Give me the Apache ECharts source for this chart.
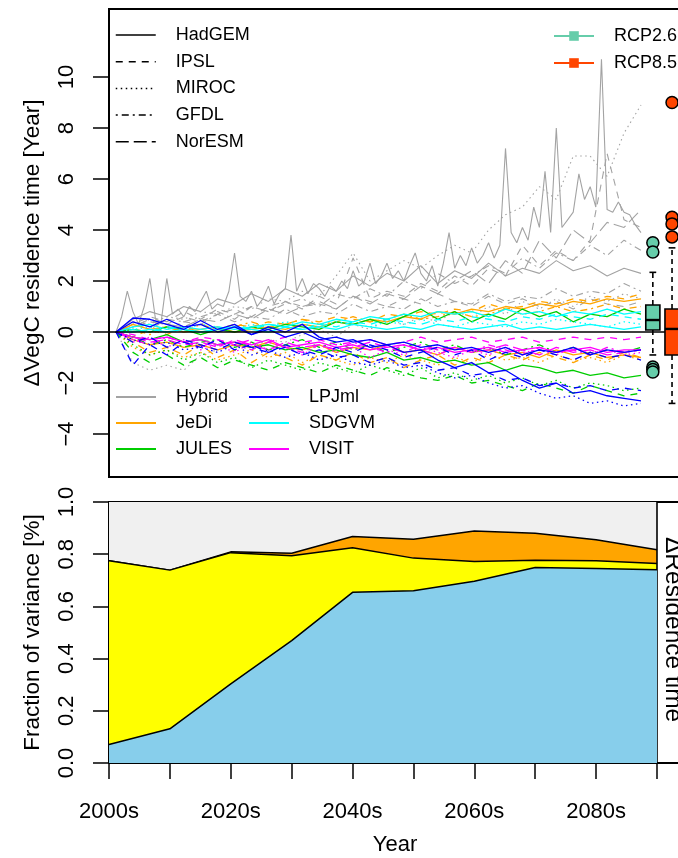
<!DOCTYPE html>
<html><head><meta charset="utf-8">
<script src="https://cdn.jsdelivr.net/npm/echarts@6/dist/echarts.min.js"></script>
<style>html,body{margin:0;padding:0;background:#fff}#c{width:678px;height:858px}</style>
</head><body><div id="c"></div>
<script>
// ---------- DATA ----------
var yearsAnnual = [2006,2007,2008,2009,2010,2011,2012,2013,2014,2015,2016,2017,2018,2019,2020,2021,2022,2023,2024,2025,
  2026,2027,2028,2029,2030,2031,2032,2033,2034,2035,2036,2037,2038,2039,2040,2041,2042,2043,2044,2045,
  2046,2047,2048,2049,2050,2051,2052,2053,2054,2055,2056,2057,2058,2059,2060,2061,2062,2063,2064,2065,
  2066,2067,2068,2069,2070,2071,2072,2073,2074,2075,2076,2077,2078,2079,2080,2081,2082,2083,2084,2085,
  2086,2087,2088,2089,2090,2091,2092,2093,2094,2095,2096,2097,2098,2099];
var years3 = [2006,2009,2012,2015,2018,2021,2024,2027,2030,2033,2036,2039,2042,2045,2048,2051,2054,2057,2060,2063,
  2066,2069,2072,2075,2078,2081,2084,2087,2090,2093,2096,2099];

// Hybrid (grey)
var hybridHadGEM85 = [0,0.6,1.6,0.8,0.3,1.0,2.1,0.5,0.4,2.1, 0.7,0.9,0.6,1.0,0.8,1.2,1.6,0.9,1.1,1.0,
  1.6,3.1,1.4,1.2,1.6,1.0,1.3,1.8,1.1,1.5, 1.7,3.8,1.6,2.1,1.5,1.9,1.7,1.4,1.8,1.6,
  2.0,1.7,2.4,1.8,2.0,2.7,1.9,2.2,2.7,2.1, 2.4,2.0,2.6,3.1,2.3,2.0,2.6,1.8,2.7,3.9,
  2.5,3.0,2.6,3.3,2.7,3.0,3.5,2.9,3.4,7.2, 3.9,3.5,4.1,3.6,4.9,4.1,6.3,3.9,8.0,4.1,
  4.4,4.7,6.2,5.2,5.7,4.9,10.7,4.8,4.7,5.1, 4.7,4.6,4.2,3.9];
var hybridMIROC85 = [0,0.4,0.3,0.6,0.5,0.8,0.7,1.0,0.9,1.3, 1.2,1.6,1.4,2.2,3.1,2.0,2.4,2.8,2.5,3.0, 3.4,3.1,4.0,4.6,4.9,5.7,5.2,6.9,6.9,6.1, 7.8,8.9];
var hybridIPSL85 = [0,0.2,0.5,0.3,0.6,0.4,0.7,0.9,0.6,1.0, 1.2,0.9,1.4,1.1,2.9,1.3,1.6,1.4,1.9,1.6, 2.2,1.8,2.5,2.2,3.4,2.6,3.2,2.8,3.6,7.0, 4.4,4.1];
var hybridGFDL85 = [0,0.3,0.1,0.5,0.4,0.6,0.8,0.5,1.0,0.8, 1.1,1.3,1.0,1.5,1.3,1.7,1.4,2.0,1.7,2.3, 1.9,2.2,2.6,2.3,2.9,2.5,3.1,2.8,3.4,3.0, 3.6,3.2];
var hybridNorESM85 = [0,0.2,0.4,0.3,0.2,0.5,0.4,0.7,0.5,0.9, 0.7,1.0,1.2,0.9,1.4,1.1,1.5,1.3,1.8,1.5, 2.0,2.4,1.9,2.8,2.3,3.6,2.9,4.0,3.5,4.3, 4.1,4.8];
var hybridHadGEM26 = [0,0.5,0.8,0.6,1.0,0.8,1.3,1.1,1.5,1.2, 1.7,1.4,1.9,1.6,2.2,1.8,2.3,2.0,2.6,1.9, 2.4,2.1,2.7,2.2,2.5,2.3,2.8,2.4,2.6,2.2, 2.5,2.3];
var hybridMIROC26 = [0,-1.2,-1.5,-1.3,-1.5,-0.9,-0.7,-0.5,-0.6,-0.3, -0.4,-0.1,0.1,-0.2,0.3,0.1,0.5,0.3,0.6,0.4, 0.8,0.6,1.0,0.7,1.2,0.9,1.3,1.0,1.4,1.2, 1.5,1.3];
var hybridIPSL26 = [0,0.3,0.6,0.4,0.8,0.5,0.9,0.7,1.0,0.8, 1.2,1.0,1.1,0.9,1.4,1.2,1.0,1.3,1.1,1.5, 1.2,1.0,1.4,1.1,1.3,1.0,1.2,0.9,1.3,1.1, 1.0,1.2];
var hybridGFDL26 = [0,0.2,0.5,0.1,0.4,0.3,0.7,0.4,0.6,0.5, 0.9,0.6,0.8,0.7,1.1,0.8,1.0,0.9,1.3,1.0, 1.2,1.1,1.5,1.2,1.4,1.3,1.7,1.4,1.6,1.5, 1.9,1.6];
// JeDi (orange)
var jediHadGEM85 = [0,0.3,0.1,0.2,0.0,0.1,0.2,0.0,0.1,0.2, 0.1,0.3,0.2,0.4,0.3,0.5,0.4,0.6,0.5,0.8, 0.7,0.9,0.8,1.0,0.9,1.1,1.0,1.2,1.1,1.3, 1.2,1.3];
var jediIPSL85 = [0,-0.2,0.1,-0.1,0.2,0.0,0.1,0.3,0.2,0.4, 0.3,0.5,0.4,0.6,0.5,0.4,0.7,0.6,0.8,0.7, 0.9,0.8,1.1,0.9,1.0,1.2,1.1,1.3,1.2,1.4, 1.3,1.5];
var jediGFDL85 = [0,0.1,-0.1,0.2,0.0,0.3,0.1,0.2,0.4,0.2, 0.3,0.5,0.3,0.4,0.6,0.4,0.5,0.7,0.5,0.6, 0.8,0.6,0.7,0.9,0.7,0.8,1.0,0.8,0.9,1.1, 0.9,1.0];
var jediMIROC85 = [0,-0.6,-0.9,-0.7,-1.0,-0.8,-1.1,-0.9,-0.7,-1.0, -0.8,-1.2,-0.9,-1.1,-1.3,-1.0,-1.2,-0.9,-1.1,-1.3, -1.0,-1.2,-0.9,-1.1,-1.0,-1.2,-0.9,-1.1,-1.0,-1.2, -0.9,-1.1];
var jediHadGEM26 = [0,-0.3,-0.5,-0.4,-0.6,-0.5,-0.7,-0.5,-0.6,-0.4, -0.6,-0.7,-0.5,-0.8,-0.6,-0.7,-0.5,-0.8,-0.7,-0.9, -0.6,-0.8,-0.7,-0.9,-0.8,-1.0,-0.7,-0.9,-0.8,-1.0, -0.9,-1.0];
var jediIPSL26 = [0,-0.4,-0.8,-0.6,-0.9,-0.5,-1.0,-0.7,-1.2,-0.8, -1.0,-1.3,-0.9,-1.1,-0.8,-1.2,-1.0,-1.4,-1.1,-0.9, -1.3,-1.0,-1.2,-0.9,-1.1,-0.8,-1.0,-1.2,-0.9,-1.1, -0.8,-1.0];
// JULES (green)
var julesHadGEM85 = [0,0.1,0.0,0.2,0.1,-0.1,0.1,0.0,0.2,0.1, 0.3,0.2,0.1,0.4,0.3,0.5,0.3,0.6,0.9,0.5, 0.8,0.4,0.7,0.5,0.9,0.6,0.8,0.4,0.7,0.6, 0.9,0.7];
var julesHadGEM26 = [0,-0.2,-0.3,-0.1,-0.4,-0.3,-0.5,-0.4,-0.6,-0.5, -0.7,-0.6,-0.8,-0.7,-0.9,-1.0,-0.8,-1.1,-1.0,-1.2, -1.1,-1.3,-1.2,-1.5,-1.3,-1.4,-1.6,-1.5,-1.7,-1.6, -1.8,-1.7];
var julesIPSL85 = [0,-0.8,-1.2,-0.9,-1.3,-1.0,-1.4,-1.1,-1.3,-1.5, -1.2,-1.4,-1.6,-1.3,-1.5,-1.7,-1.4,-1.6,-1.8,-1.9, -1.7,-2.0,-1.9,-2.1,-2.3,-2.0,-2.2,-2.4,-2.1,-2.3, -2.5,-2.4];
var julesMIROC85 = [0,-0.5,-0.9,-0.7,-1.1,-0.8,-1.2,-1.0,-1.4,-1.1, -1.3,-1.5,-1.2,-1.4,-1.6,-1.3,-1.5,-1.7,-1.4,-1.8, -1.6,-1.9,-1.7,-2.0,-1.8,-2.1,-1.9,-2.2,-2.0,-2.1, -2.3,-2.2];
var julesGFDL26 = [0,-0.2,-0.5,-0.3,-0.6,-0.4,-0.3,-0.6,-0.4,-0.7, -0.5,-0.3,-0.6,-0.4,-0.7,-0.5,-0.8,-0.6,-0.4,-0.7, -0.5,-0.8,-0.6,-0.9,-0.7,-0.5,-0.8,-0.6,-0.9,-0.7, -0.8,-0.6];
// LPJml (blue)
var lpjHadGEM85 = [0,0.55,0.5,0.3,0.1,0.45,0.1,0.3,-0.1,0.2, 0.0,0.3,-0.2,-0.4,-0.3,-0.6,-0.5,-0.8,-0.7,-1.1, -1.4,-1.2,-1.6,-1.5,-1.9,-2.2,-2.0,-2.4,-2.3,-2.5, -2.6,-2.7];
var lpjIPSL85 = [0,-1.3,-0.5,-0.9,-0.4,-0.6,-0.3,-0.7,-0.5,-0.8, -0.6,-0.9,-0.7,-1.0,-0.9,-1.2,-1.0,-1.3,-1.2,-1.5, -1.4,-1.7,-1.6,-1.9,-1.8,-2.1,-2.0,-2.2,-2.1,-2.3, -2.2,-2.3];
var lpjMIROC85 = [0,-0.3,-0.5,-0.4,-0.7,-0.6,-0.8,-0.5,-0.9,-0.7, -1.0,-0.8,-1.1,-0.9,-1.2,-1.3,-1.1,-1.4,-1.3,-1.6, -1.8,-1.7,-2.0,-2.2,-2.1,-2.4,-2.6,-2.5,-2.8,-2.7, -2.9,-2.8];
var lpjHadGEM26 = [0,0.4,0.2,0.5,0.2,0.3,0.0,0.2,-0.1,0.1, -0.2,0.0,-0.3,-0.2,-0.4,-0.3,-0.5,-0.4,-0.6,-0.5, -0.7,-0.6,-0.8,-0.6,-0.9,-0.7,-0.8,-0.6,-0.9,-0.7, -0.8,-0.7];
var lpjIPSL26 = [0,-0.4,-0.2,-0.6,-0.3,-0.5,-0.7,-0.4,-0.6,-0.8, -0.5,-0.7,-0.9,-0.6,-0.8,-0.5,-0.7,-1.0,-0.8,-0.6, -0.9,-0.7,-1.1,-0.8,-1.0,-0.7,-0.9,-1.1,-0.8,-1.0, -0.9,-1.1];
// SDGVM (cyan)
var sdgHadGEM85 = [0,0.2,0.3,0.1,0.2,0.1,0.2,0.1,0.2,0.3, 0.2,0.4,0.3,0.5,0.4,0.6,0.5,0.7,0.6,0.8, 0.7,0.8,0.6,0.9,0.7,0.8,0.6,0.8,0.7,0.9, 0.7,0.8];
var sdgIPSL85 = [0,0.1,0.0,0.2,0.1,0.0,0.1,0.2,0.1,0.3, 0.2,0.1,0.3,0.2,0.4,0.3,0.5,0.4,0.3,0.5, 0.4,0.6,0.5,0.4,0.6,0.5,0.7,0.6,0.5,0.7, 0.6,0.5];
var sdgMIROC85 = [0,0.1,0.2,0.0,0.1,0.3,0.2,0.1,0.3,0.2, 0.4,0.3,0.2,0.4,0.3,0.2,0.4,0.3,0.5,0.3, 0.2,0.4,0.3,0.2,0.4,0.3,0.5,0.4,0.3,0.2, 0.4,0.3];
var sdgHadGEM26 = [0,0.0,0.1,0.0,0.1,0.0,0.1,0.2,0.1,0.0, 0.2,0.1,0.2,0.1,0.3,0.2,0.1,0.2,0.1,0.3, 0.2,0.1,0.2,0.3,0.1,0.2,0.1,0.2,0.3,0.2, 0.1,0.2];
// VISIT (magenta)
var visHadGEM85 = [0,-0.2,-0.3,-0.2,-0.4,-0.3,-0.5,-0.4,-0.5,-0.3, -0.6,-0.5,-0.4,-0.6,-0.5,-0.7,-0.6,-0.5,-0.7,-0.6, -0.8,-0.7,-0.6,-0.8,-0.7,-0.6,-0.8,-0.7,-0.6,-0.8, -0.7,-0.7];
var visIPSL85 = [0,-0.1,-0.3,-0.2,-0.4,-0.2,-0.3,-0.5,-0.3,-0.4, -0.2,-0.4,-0.3,-0.5,-0.4,-0.3,-0.5,-0.4,-0.2,-0.4, -0.3,-0.2,-0.4,-0.3,-0.2,-0.4,-0.3,-0.2,-0.3,-0.2, -0.3,-0.2];
var visMIROC85 = [0,-0.4,-0.2,-0.6,-0.3,-0.7,-0.5,-0.8,-0.4,-0.7, -0.6,-0.9,-0.5,-0.8,-0.6,-1.0,-0.7,-0.9,-0.6,-0.8, -1.0,-0.7,-0.9,-0.6,-0.8,-0.7,-0.9,-0.6,-0.8,-0.7, -0.9,-0.8];
var visGFDL85 = [0,-0.3,-0.5,-0.2,-0.4,-0.6,-0.3,-0.5,-0.7,-0.4, -0.6,-0.8,-0.5,-0.7,-0.4,-0.6,-0.8,-0.5,-0.7,-0.9, -0.6,-0.8,-0.5,-0.7,-0.9,-0.6,-0.8,-0.7,-0.9,-0.6, -0.8,-0.7];
var visNorESM85 = [0,-0.2,-0.4,-0.3,-0.5,-0.4,-0.6,-0.3,-0.5,-0.7, -0.4,-0.6,-0.5,-0.7,-0.6,-0.4,-0.6,-0.8,-0.5,-0.7, -0.6,-0.8,-0.7,-0.5,-0.7,-0.9,-0.6,-0.8,-0.7,-0.9, -0.8,-0.7];

// Box plots at end of century (min whisker, Q1, median, Q3, max whisker)
var rcpNames = ['RCP2.6', 'RCP8.5'];
var boxStats26 = [-0.9, 0.08, 0.47, 1.06, 2.34];
var boxStats85 = [-2.8, -0.9, 0.12, 0.9, 3.3];
var outliers26 = [3.5, 3.14, -1.37, -1.47, -1.57];
var outliers85 = [9.0, 4.5, 4.24, 3.73];

// Bottom panel: fraction of variance by decade
var decades = ['2000s','2010s','2020s','2030s','2040s','2050s','2060s','2070s','2080s','2090s'];
var decadeTickLabels = ['2000s','','2020s','','2040s','','2060s','','2080s',''];
var varBlue   = [0.071,0.131,0.303,0.469,0.654,0.660,0.696,0.749,0.745,0.740];
var varYellow = [0.704,0.608,0.503,0.325,0.171,0.125,0.076,0.028,0.030,0.024];
var varOrange = [0,0,0.003,0.010,0.043,0.072,0.117,0.103,0.080,0.053];
var varRest   = [0.225,0.261,0.191,0.196,0.132,0.143,0.111,0.120,0.145,0.183];

var topYTicks = [-4,-2,0,2,4,6,8,10];
var gcmNames = ['HadGEM','IPSL','MIROC','GFDL','NorESM'];
var modelNames1 = ['Hybrid','JeDi','JULES'];
var modelNames2 = ['LPJml','SDGVM','VISIT'];

// ---------- STYLE ----------
var FONT = '"Liberation Sans", Arial, Helvetica, sans-serif';
var modelColors = {Hybrid:'#A3A3A3', JeDi:'#FFA500', JULES:'#00CD00', LPJml:'#0000FF', SDGVM:'#00FFFF', VISIT:'#FF00FF'};
var gcmDash = {HadGEM:'solid', IPSL:[7,6], MIROC:[1.5,3.5], GFDL:[2,4,7,4], NorESM:[13,5]};
var rcpColors = ['#66CDAA', '#FF4500'];
var boxPositions = [2101.1, 2104.5];
var boxWidth = 2.5, capWidth = 1.2;

var lineSets = [
  ['Hybrid','HadGEM',yearsAnnual,hybridHadGEM85],
  ['Hybrid','MIROC',years3,hybridMIROC85],
  ['Hybrid','IPSL',years3,hybridIPSL85],
  ['Hybrid','GFDL',years3,hybridGFDL85],
  ['Hybrid','NorESM',years3,hybridNorESM85],
  ['Hybrid','HadGEM',years3,hybridHadGEM26],
  ['Hybrid','MIROC',years3,hybridMIROC26],
  ['Hybrid','IPSL',years3,hybridIPSL26],
  ['Hybrid','GFDL',years3,hybridGFDL26],
  ['JeDi','HadGEM',years3,jediHadGEM85],
  ['JeDi','IPSL',years3,jediIPSL85],
  ['JeDi','GFDL',years3,jediGFDL85],
  ['JeDi','MIROC',years3,jediMIROC85],
  ['JeDi','HadGEM',years3,jediHadGEM26],
  ['JeDi','IPSL',years3,jediIPSL26],
  ['JULES','HadGEM',years3,julesHadGEM85],
  ['JULES','HadGEM',years3,julesHadGEM26],
  ['JULES','IPSL',years3,julesIPSL85],
  ['JULES','MIROC',years3,julesMIROC85],
  ['JULES','GFDL',years3,julesGFDL26],
  ['SDGVM','HadGEM',years3,sdgHadGEM85],
  ['SDGVM','IPSL',years3,sdgIPSL85],
  ['SDGVM','MIROC',years3,sdgMIROC85],
  ['SDGVM','HadGEM',years3,sdgHadGEM26],
  ['VISIT','HadGEM',years3,visHadGEM85],
  ['VISIT','IPSL',years3,visIPSL85],
  ['VISIT','MIROC',years3,visMIROC85],
  ['VISIT','GFDL',years3,visGFDL85],
  ['VISIT','NorESM',years3,visNorESM85],
  ['LPJml','HadGEM',years3,lpjHadGEM85],
  ['LPJml','IPSL',years3,lpjIPSL85],
  ['LPJml','MIROC',years3,lpjMIROC85],
  ['LPJml','HadGEM',years3,lpjHadGEM26],
  ['LPJml','IPSL',years3,lpjIPSL26]
];

function pairs(xs, ys) { return ys.map(function (v, i) { return [xs[i], v]; }); }
function minusFmt(v) { return v < 0 ? '\u2212' + Math.abs(v) : String(v); }

var series = [];
lineSets.forEach(function (s, i) {
  series.push({
    type: 'line', name: s[0] + ' ' + s[1] + ' ' + i, xAxisIndex: 0, yAxisIndex: 0,
    data: pairs(s[2], s[3]), symbol: 'none', silent: true, z: s[0] === 'Hybrid' ? 2 : 3,
    lineStyle: { color: modelColors[s[0]], width: s[0] === 'Hybrid' ? 1.1 : 1.3, type: gcmDash[s[1]] }
  });
});
// zero reference line
series.push({
  type: 'line', name: 'zero', xAxisIndex: 0, yAxisIndex: 0, data: [[years3[0], 0]], symbol: 'none', silent: true, z: 6,
  markLine: { symbol: 'none', silent: true, label: { show: false }, data: [{ yAxis: 0 }],
    lineStyle: { color: '#000', width: 1.6, type: 'solid' } }
});
// legend-only series
gcmNames.forEach(function (g) {
  series.push({ type: 'line', name: g, xAxisIndex: 0, yAxisIndex: 0, data: [], symbol: 'none',
    lineStyle: { color: '#000', width: 1.5, type: gcmDash[g] }, itemStyle: { color: '#000' } });
});
modelNames1.concat(modelNames2).forEach(function (m) {
  series.push({ type: 'line', name: m, xAxisIndex: 0, yAxisIndex: 0, data: [], symbol: 'none',
    lineStyle: { color: modelColors[m], width: 2 }, itemStyle: { color: modelColors[m] } });
});
rcpNames.forEach(function (r, i) {
  series.push({ type: 'line', name: r, xAxisIndex: 0, yAxisIndex: 0, data: [], symbol: 'rect',
    lineStyle: { color: rcpColors[i], width: 2 }, itemStyle: { color: rcpColors[i] } });
});
// box plots
var boxData = [[boxPositions[0]].concat(boxStats26), [boxPositions[1]].concat(boxStats85)];
series.push({
  type: 'custom', name: 'boxes', xAxisIndex: 0, yAxisIndex: 0, z: 8, silent: true,
  data: boxData, encode: { x: 0, y: [1, 2, 3, 4, 5] },
  renderItem: function (params, api) {
    var x = api.value(0);
    var low = api.coord([x, api.value(1)]), q1 = api.coord([x, api.value(2)]),
        med = api.coord([x, api.value(3)]), q3 = api.coord([x, api.value(4)]),
        high = api.coord([x, api.value(5)]);
    var hw = api.size([boxWidth, 0])[0] / 2, cw = api.size([capWidth, 0])[0] / 2;
    var cx = low[0];
    var dash = { stroke: '#000', lineWidth: 1.6, lineDash: [5, 4] };
    var solid = { stroke: '#000', lineWidth: 1.6 };
    return { type: 'group', children: [
      { type: 'line', shape: { x1: cx, y1: q3[1], x2: cx, y2: high[1] }, style: dash },
      { type: 'line', shape: { x1: cx, y1: q1[1], x2: cx, y2: low[1] }, style: dash },
      { type: 'line', shape: { x1: cx - cw, y1: high[1], x2: cx + cw, y2: high[1] }, style: solid },
      { type: 'line', shape: { x1: cx - cw, y1: low[1], x2: cx + cw, y2: low[1] }, style: solid },
      { type: 'rect', shape: { x: cx - hw, y: q3[1], width: 2 * hw, height: q1[1] - q3[1] },
        style: { fill: rcpColors[params.dataIndex], stroke: '#000', lineWidth: 1.6 } },
      { type: 'line', shape: { x1: cx - hw, y1: med[1], x2: cx + hw, y2: med[1] }, style: { stroke: '#000', lineWidth: 2.4 } }
    ] };
  }
});
[outliers26, outliers85].forEach(function (arr, i) {
  series.push({ type: 'scatter', name: 'out' + i, xAxisIndex: 0, yAxisIndex: 0, z: 9, silent: true,
    data: arr.map(function (v) { return [boxPositions[i], v]; }), symbol: 'circle', symbolSize: 12,
    itemStyle: { color: rcpColors[i], borderColor: '#000', borderWidth: 1.5, opacity: 1 } });
});
// bottom panel: cumulative layers drawn top-down so each area fills to zero
var layers = [['GCM', varBlue, '#87CEEB'], ['Model', varYellow, '#FFFF00'], ['Scenario', varOrange, '#FFA500'], ['Other', varRest, '#F0F0F0']];
var running = decades.map(function () { return 0; });
var cumLayers = layers.map(function (l) {
  running = running.map(function (r, i) { return r + l[1][i]; });
  return running.slice();
});
for (var k = layers.length - 1; k >= 0; k--) {
  var ser = { type: 'line', name: layers[k][0], xAxisIndex: 1, yAxisIndex: 1, silent: true,
    data: cumLayers[k].map(function (v, i) { return [i, v]; }), symbol: 'none', z: 2 + (layers.length - 1 - k),
    lineStyle: { color: '#000', width: k === layers.length - 1 ? 0 : 1.5 },
    areaStyle: { color: layers[k][2], opacity: 1, origin: 'start' } };
  if (k === 0) {
    ser.markLine = { symbol: 'none', silent: true, label: { show: false }, data: [{ xAxis: decades.length - 1 }],
      lineStyle: { color: '#000', width: 1.6, type: 'solid' } };
  }
  series.push(ser);
}

function legendCfg(names, left, top, gap, extra) {
  var c = { data: names, orient: 'vertical', left: left, top: top, itemWidth: 40, itemHeight: 18, itemGap: gap,
    selectedMode: false, padding: 0,
    textStyle: { fontFamily: FONT, fontSize: 18, color: '#000', lineHeight: 18, padding: [0, 0, 0, 15] },
    lineStyle: { width: 1.5 }, itemStyle: { opacity: 0 } };
  for (var key in extra) c[key] = extra[key];
  return c;
}

var option = {
  animation: false,
  backgroundColor: '#fff',
  textStyle: { fontFamily: FONT, color: '#000' },
  grid: [
    { left: 109, top: 9, right: -3, bottom: 381, show: true, borderColor: '#000', borderWidth: 2, backgroundColor: 'transparent', outerBoundsMode: 'none' },
    { left: 109, top: 502, right: -3, bottom: 95, show: true, borderColor: '#000', borderWidth: 2, backgroundColor: 'transparent', outerBoundsMode: 'none' }
  ],
  xAxis: [
    { gridIndex: 0, type: 'value', min: 2004.76, max: 2106.09, show: false },
    { gridIndex: 1, type: 'value', min: 0, max: 9.394, interval: 1,
      axisLine: { show: false }, splitLine: { show: false },
      axisTick: { show: true, length: 16, lineStyle: { color: '#000', width: 1.5 } },
      axisLabel: { margin: 38, fontSize: 22, color: '#000', fontFamily: FONT,
        formatter: function (v) { var i = Math.round(v); return (Math.abs(v - i) < 1e-6 && decadeTickLabels[i]) ? decadeTickLabels[i] : ''; } },
      name: 'Year', nameLocation: 'middle', nameGap: 71, nameTextStyle: { fontSize: 22, color: '#000', fontFamily: FONT } }
  ],
  yAxis: [
    { gridIndex: 0, type: 'value', min: -5.686, max: 12.667,
      axisLine: { show: false }, splitLine: { show: false },
      axisTick: { show: true, length: 16, customValues: topYTicks, lineStyle: { color: '#000', width: 1.5 } },
      axisLabel: { rotate: 90, margin: 31, fontSize: 22, color: '#000', fontFamily: FONT, customValues: topYTicks, formatter: minusFmt },
      name: '\u0394VegC residence time [Year]', nameLocation: 'middle', nameRotate: 90, nameGap: 65,
      nameTextStyle: { fontSize: 22.5, color: '#000', fontFamily: FONT } },
    { gridIndex: 1, type: 'value', min: 0, max: 1, interval: 0.2,
      axisLine: { show: false }, splitLine: { show: false },
      axisTick: { show: true, length: 16, lineStyle: { color: '#000', width: 1.5 } },
      axisLabel: { rotate: 90, margin: 31, fontSize: 22, color: '#000', fontFamily: FONT, formatter: function (v) { return v.toFixed(1); } },
      name: 'Fraction of variance [%]', nameLocation: 'middle', nameRotate: 90, nameGap: 65,
      nameTextStyle: { fontSize: 22.5, color: '#000', fontFamily: FONT } }
  ],
  legend: [
    legendCfg(gcmNames, 115, 26, 8.7, {}),
    legendCfg(modelNames1, 115, 388, 8, { lineStyle: { width: 2 } }),
    legendCfg(modelNames2, 248, 388, 8, { lineStyle: { width: 2 } }),
    legendCfg(rcpNames, 553, 27, 9, { itemHeight: 12, itemStyle: {}, lineStyle: { width: 2 } })
  ],
  graphic: [
    { type: 'text', x: 660, y: 537, rotation: -Math.PI / 2, silent: true, z: 100, zlevel: 0,
      style: { text: '\u0394Residence time', font: '24.5px ' + FONT, fill: '#000', align: 'left', verticalAlign: 'bottom' } }
  ],
  series: series
};

var chart = echarts.init(document.getElementById('c'), null, { renderer: 'canvas' });
chart.setOption(option);
</script></body></html>
